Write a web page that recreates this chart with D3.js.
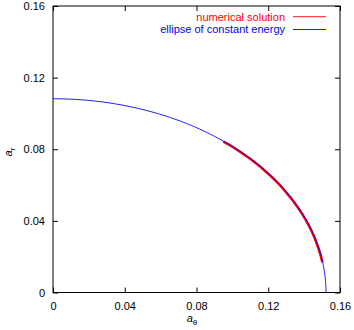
<!DOCTYPE html>
<html><head><meta charset="utf-8">
<script src="https://cdn.jsdelivr.net/npm/d3@7"></script>
<style>body{margin:0;background:#fff}svg{display:block}text{font-family:"Liberation Sans",Arial,sans-serif}</style>
</head><body><svg id="c" width="354" height="330"></svg>
<script>
// Data
const tickValues = [0, 0.04, 0.08, 0.12, 0.16];
const tickLabels = ["0", "0.04", "0.08", "0.12", "0.16"];
const seriesNames = ["numerical solution", "ellipse of constant energy"];
const seriesColors = ["#ff0000", "#0000ff"];
// numerical solution (a_theta, a_r)
const numTheta = [0.0950,0.0990,0.1017,0.1046,0.1075,0.1103,0.1130,0.1156,0.1181,0.1206,0.1230,0.1253,0.1275,0.1296,0.1316,0.1336,0.1354,0.1372,0.1389,0.1405,0.1419,0.1433,0.1446,0.1458,0.1468,0.1478,0.1487,0.1493,0.1497,0.1502];
const numR     = [0.0843,0.0821,0.0803,0.0784,0.0764,0.0744,0.0723,0.0702,0.0680,0.0658,0.0635,0.0612,0.0588,0.0564,0.0540,0.0515,0.0490,0.0465,0.0439,0.0413,0.0387,0.0361,0.0334,0.0307,0.0280,0.0253,0.0225,0.0205,0.0188,0.0168];
// ellipse of constant energy: semi-axes
const ellipseTheta = 0.1522;
const ellipseR = 0.1082;

const svg = d3.select("#c");
const L = 53, R = 340, T = 6, B = 292.5;
const x = d3.scaleLinear().domain([0, 0.16]).range([L, R]);
const y = d3.scaleLinear().domain([0, 0.16]).range([B, T]);
const fmt = (d) => tickLabels[tickValues.indexOf(d)];

svg.append("clipPath").attr("id","clp").append("rect")
  .attr("x", L).attr("y", T).attr("width", R-L).attr("height", B-T);

// numerical solution
const numPts = numTheta.map((v,i)=>[v, numR[i]]);
const line = d3.line().x(d=>x(d[0])).y(d=>y(d[1])).curve(d3.curveLinear);
svg.append("path").datum(numPts).attr("d", line).attr("fill","none")
  .attr("stroke", seriesColors[0]).attr("stroke-width", 2.6).attr("clip-path","url(#clp)");
// ellipse
const ang = d3.range(0, 90.5, 0.5).map(a => a*Math.PI/180);
const ellPts = ang.map(a => [ellipseTheta*Math.cos(a), ellipseR*Math.sin(a)]);
svg.append("path").datum(ellPts).attr("d", line).attr("fill","none")
  .attr("stroke", seriesColors[1]).attr("stroke-width", 0.9).attr("clip-path","url(#clp)");

// axes (ticks inward, mirrored)
const tl = 5;
const ax = (gen, tx, ty) => svg.append("g").attr("transform",`translate(${tx},${ty})`).call(gen);
const style = sel => { sel.select(".domain").remove(); sel.selectAll("line").attr("stroke","#000"); sel.selectAll("text").attr("font-size","11px").attr("fill","#000"); };
ax(d3.axisBottom(x).tickValues(tickValues).tickFormat(fmt).tickSizeInner(-tl).tickSizeOuter(0).tickPadding(10), 0, B).call(style);
ax(d3.axisTop(x).tickValues(tickValues).tickFormat("").tickSizeInner(-tl).tickSizeOuter(0), 0, T).call(style);
ax(d3.axisLeft(y).tickValues(tickValues).tickFormat(fmt).tickSizeInner(-tl).tickSizeOuter(0).tickPadding(8), L, 0).call(style);
ax(d3.axisRight(y).tickValues(tickValues).tickFormat("").tickSizeInner(-tl).tickSizeOuter(0), R, 0).call(style);
svg.append("rect").attr("x",L).attr("y",T).attr("width",R-L).attr("height",B-T)
  .attr("fill","none").attr("stroke","#000").attr("stroke-width",1);

// legend
const leg = [[seriesNames[0], seriesColors[0], 20.5], [seriesNames[1], seriesColors[1], 33.3]];
leg.forEach(([t,c,yy]) => {
  svg.append("text").attr("x", 285).attr("y", yy).attr("text-anchor","end")
    .attr("font-size","11px").attr("fill", c).text(t);
  svg.append("line").attr("x1",293).attr("x2",326).attr("y1",yy-3.8).attr("y2",yy-3.8)
    .attr("stroke",c).attr("stroke-width",0.9);
});

// axis labels
const xl = svg.append("text").attr("x", 192).attr("y", 322).attr("text-anchor","middle").attr("font-size","11px");
xl.append("tspan").attr("font-style","italic").text("a");
xl.append("tspan").attr("font-size","8px").attr("dy", 3).text("θ");
const yl = svg.append("text").attr("transform","translate(12,152) rotate(-90)").attr("text-anchor","middle").attr("font-size","11px");
yl.append("tspan").attr("font-style","italic").text("a");
yl.append("tspan").attr("font-size","8px").attr("dy", 3).text("r");
</script></body></html>
